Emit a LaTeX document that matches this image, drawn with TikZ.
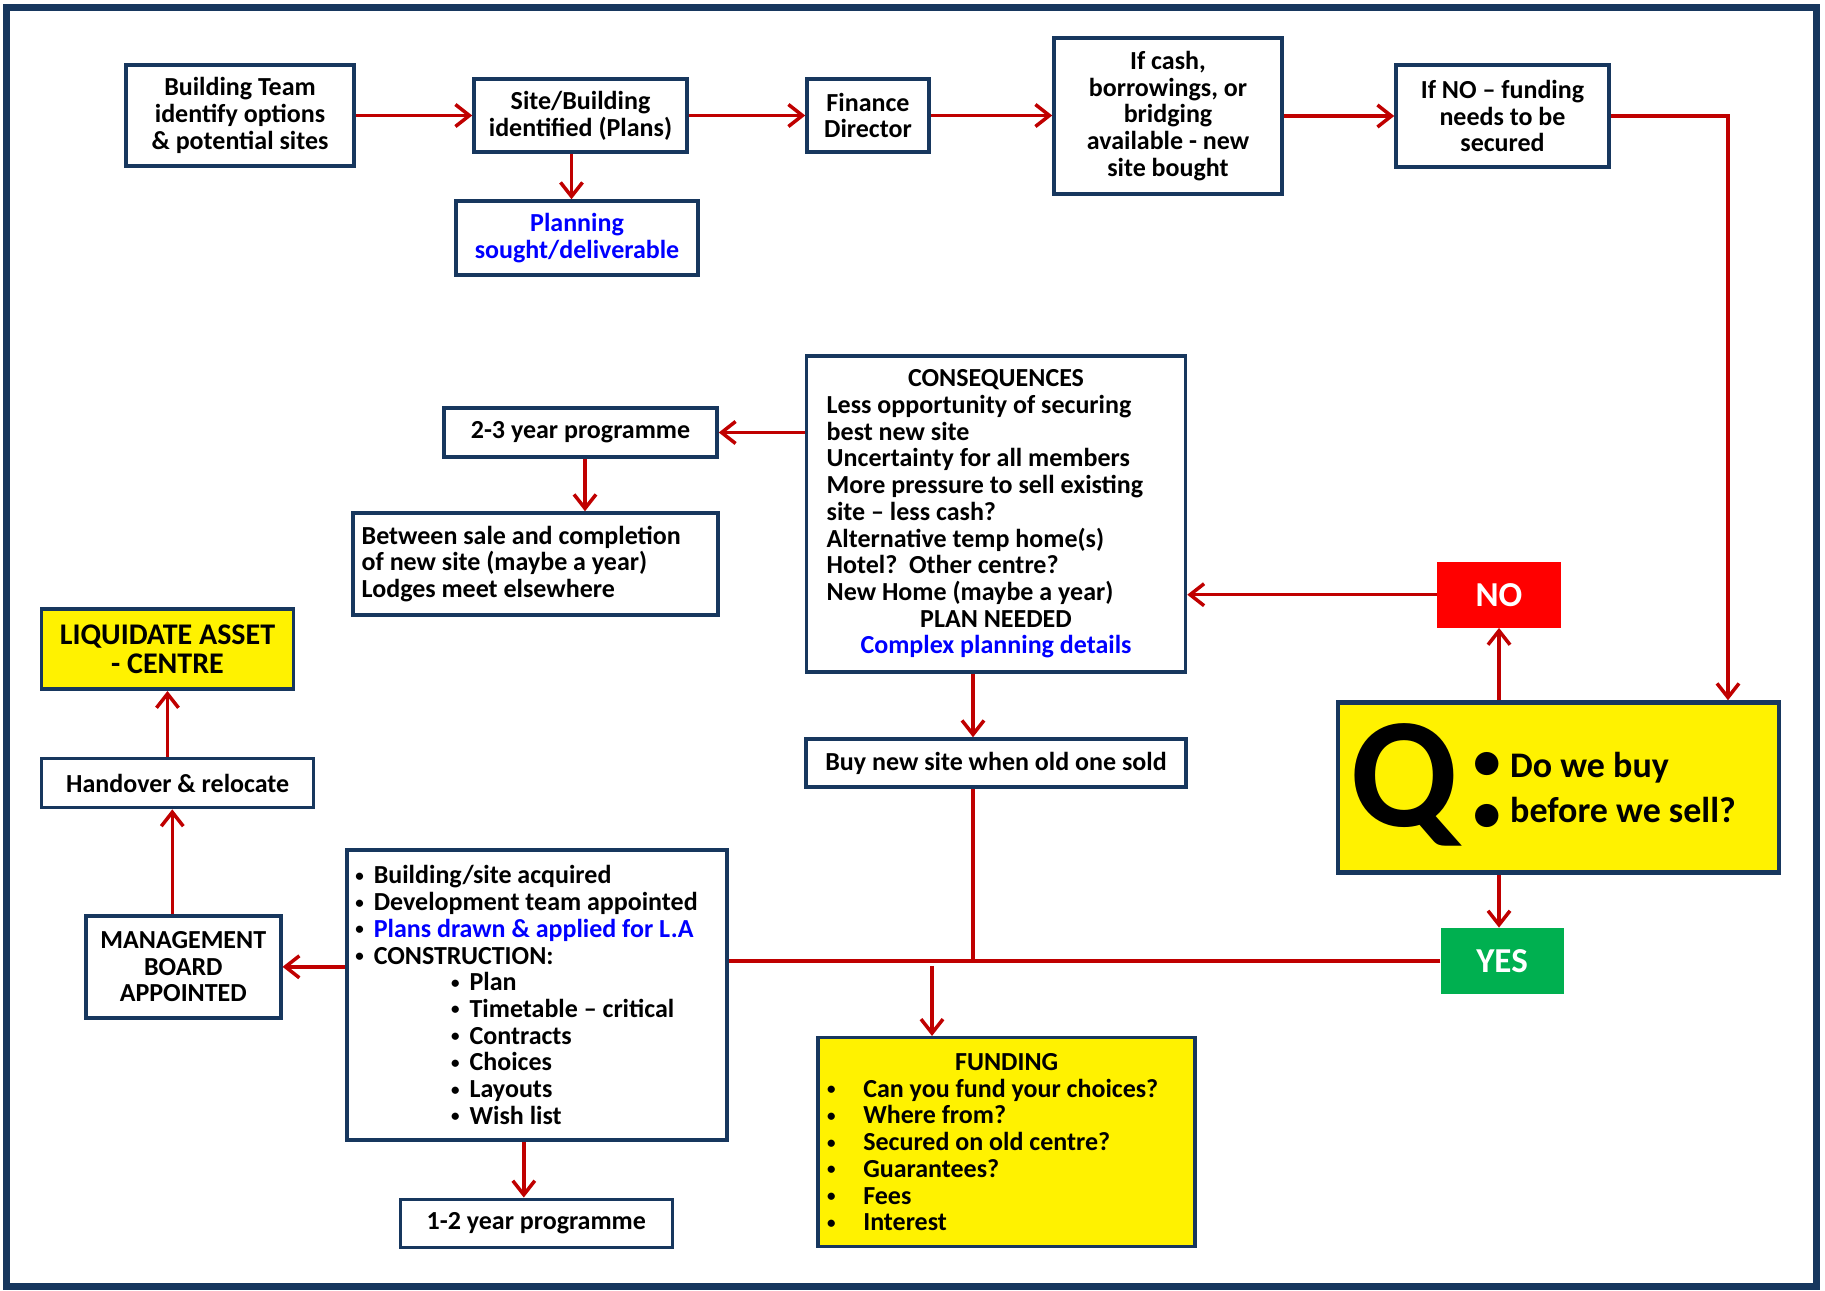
\documentclass[tikz,border=0pt]{standalone}
\usepackage{fontspec}
\setmainfont{Carlito}
\usetikzlibrary{arrows.meta,calc}
\definecolor{navy}{RGB}{23,55,94}
\definecolor{arrred}{RGB}{192,0,0}
\definecolor{noRed}{RGB}{255,0,0}
\definecolor{yesGreen}{RGB}{0,176,80}
\definecolor{txtBlue}{RGB}{0,0,255}
\setlength{\lineskiplimit}{-100pt}
\newcommand{\smdot}{\raisebox{2.5pt}{\fontsize{17}{17}\selectfont •}}
\newcommand{\bulA}{\hspace*{6.6pt}\makebox[0pt]{\smdot}\hspace*{14.2pt}}
\newcommand{\bulB}{\hspace*{102.4pt}\makebox[0pt]{\smdot}\hspace*{14.2pt}}
\newcommand{\bulF}{\hspace*{5.3pt}\makebox[0pt]{\smdot}\hspace*{32pt}}
\tikzset{
  box/.style={draw=navy, line width=3.5pt, fill=white, inner sep=0pt, align=center, text=black},
  sz/.style 2 args={minimum width=#1pt, minimum height=#2pt},
  arr/.style={draw=arrred, line width=3.5pt, -{Straight Barb[length=14pt,width=22pt]}},
  conn/.style={draw=arrred, line width=3.5pt},
  basefont/.style={font=\fontsize{26}{26.7}\selectfont\bfseries},
}
\begin{document}
\begin{tikzpicture}[x=1pt, y=-1pt, every node/.append style={basefont}]
\useasboundingbox (0,0) rectangle (1825,1290);
\fill[white] (0,0) rectangle (1825,1290);
\draw[navy, line width=7pt] (6,7.5) rectangle (1816,1286);

% top row
\node[box, sz={228}{101}] (bt) at (240,115.5) {Building Team\\identify options\\\& potential sites};
\node[box, sz={213}{73}] (sb) at (580.5,115.5) {Site/Building\\identified (Plans)};
\node[box, sz={242}{74}, text=txtBlue] (plan) at (577,238) {Planning\\sought/deliverable};
\node[box, sz={122}{73}] (fd) at (868,115.5) {Finance\\Director};
\node[box, sz={228}{156}] (cash) at (1168,116) {If cash,\\borrowings, or\\bridging\\available - new\\site bought};
\node[box, sz={213}{102}] (ifno) at (1502.5,116) {If NO – funding\\needs to be\\secured};

% consequences
\node[box, sz={379}{316}, align=left] (cons) at (996,514) {\makebox[338.6pt][c]{CONSEQUENCES}\\Less opportunity of securing\\best new site\\Uncertainty for all members\\More pressure to sell existing\\site – less cash?\\Alternative temp home(s)\\Hotel?\ \ Other centre?\\New Home (maybe a year)\\\makebox[338.6pt][c]{PLAN NEEDED}\\\makebox[338.6pt][c]{\color{txtBlue}Complex planning details}};

\node[box, sz={273}{49}] (two3) at (580.5,432.5) {2-3 year programme};
\node[box, sz={365}{102}, align=left] (between) at (535.5,564) {\makebox[347.6pt][l]{Between sale and completion}\\of new site (maybe a year)\\Lodges meet elsewhere};

% decision
\node[fill=noRed, sz={124}{66}, inner sep=0pt, text=white, font=\fontsize{35}{40}\selectfont\bfseries] (no) at (1499,594.7) {NO};
\node[draw=navy, line width=4.5pt, fill=yellow, sz={441}{170}, inner sep=0pt] (q) at (1558.7,787.5) {};
\node[anchor=base west, inner sep=0pt, font=\fontsize{157}{160}\selectfont\bfseries] (qq) at (1350,826) {Q};
\node[anchor=base, inner sep=0pt, font=\fontsize{157}{160}\selectfont\bfseries] (qc) at (1487,826) {:};
\node[anchor=base west, inner sep=0pt, font=\fontsize{36}{40}\selectfont\bfseries] (qt1) at (1510,777) {Do we buy};
\node[anchor=base west, inner sep=0pt, font=\fontsize{36}{40}\selectfont\bfseries] (qt2) at (1510,822) {before we sell?};
\node[fill=yesGreen, sz={123}{66}, inner sep=0pt, text=white, font=\fontsize{35}{40}\selectfont\bfseries] (yes) at (1502,960.8) {YES};

\node[box, sz={380}{48}] (buy) at (996,763) {Buy new site when old one sold};

\node[box, fill=yellow, sz={377}{209}, align=left] (funding) at (1006.7,1142.2) {\makebox[361.4pt][c]{FUNDING}\\\bulF Can you fund your choices?\\\bulF Where from?\\\bulF Secured on old centre?\\\bulF Guarantees?\\\bulF Fees\\\bulF Interest};

\node[box, sz={380}{290}, align=left] (const) at (536.8,995.1) {\makebox[367.6pt][l]{\bulA Building/site acquired}\\\bulA Development team appointed\\\bulA {\color{txtBlue}Plans drawn \& applied for L.A}\\\bulA CONSTRUCTION:\\\bulB Plan\\\bulB Timetable – critical\\\bulB Contracts\\\bulB Choices\\\bulB Layouts\\\bulB Wish list};

\node[box, sz={272}{48}] (onetwo) at (536.3,1223.3) {1-2 year programme};
\node[box, sz={195}{102}] (mgmt) at (183.3,966.8) {MANAGEMENT\\BOARD\\APPOINTED};
\node[box, sz={272}{49}] (handover) at (177.7,783.1) {Handover \& relocate};
\node[box, fill=yellow, sz={252}{80}, font=\fontsize{30}{28.5}\selectfont\bfseries] (liq) at (167.5,649.2) {LIQUIDATE ASSET\\- CENTRE};

% connectors
\draw[arr] (bt.east) -- (sb.west);
\draw[arr] (sb.east) -- (fd.west);
\draw[arr] (fd.east) -- (cash.west |- fd.east);
\draw[arr] (cash.east) -- (ifno.west);
\draw[arr] ([xshift=-9pt]sb.south) -- ([xshift=-9pt]sb.south |- plan.north);
\draw[arr] (ifno.east) -| ([xshift=169.3pt]q.north);
\draw[arr] (cons.west |- two3.east) -- (two3.east);
\draw[arr] ([xshift=4.5pt]two3.south) -- ([xshift=4.5pt]two3.south |- between.north);
\draw[arr] (no.west) -- (cons.east |- no.west);
\draw[arr] (q.north -| no.south) -- (no.south);
\draw[arr] (q.south -| no.south) -- (yes.north -| no.south);
\draw[arr] ([xshift=-23pt]cons.south) -- ([xshift=-23pt]buy.north);
\coordinate (bj) at ([xshift=-23pt]buy.south);
\draw[conn] (bj) -- (bj |- yes.west);
\draw[conn] (yes.west) -- (const.east |- yes.west);
\coordinate (fa) at ([xshift=-74.7pt]funding.north);
\draw[arr] ($(fa |- yes.west)+(0,5)$) -- (fa);
\draw[arr] (const.west |- mgmt.east) -- (mgmt.east);
\draw[arr] ([xshift=-13pt]const.south) -- ([xshift=-13pt]const.south |- onetwo.north);
\draw[arr] ([xshift=-11pt]mgmt.north) -- ([xshift=-11pt]mgmt.north |- handover.south);
\draw[arr] (handover.north -| liq.south) -- (liq.south);
\end{tikzpicture}
\end{document}
